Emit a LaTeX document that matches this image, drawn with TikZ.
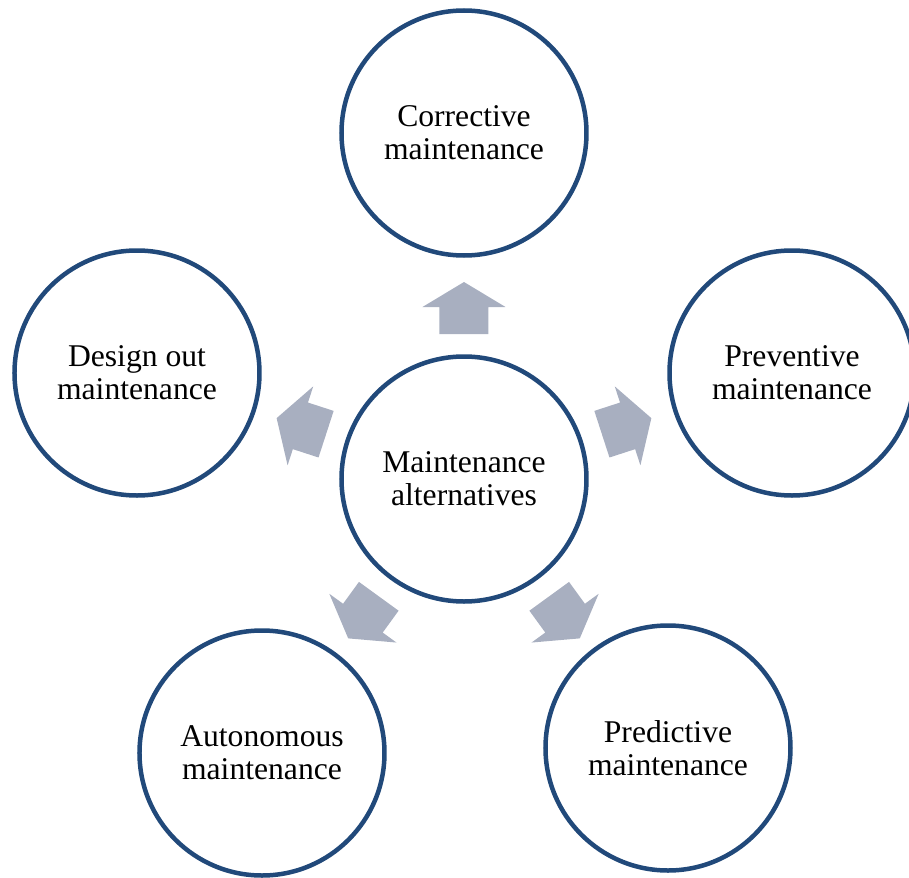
\documentclass[tikz,border=0pt]{standalone}
\usepackage{fontspec}
\setmainfont{Liberation Serif}
\usepackage{tikz}

\definecolor{ringblue}{HTML}{21497A}
\definecolor{arrowgrey}{HTML}{A8AFC0}

\begin{document}
\begin{tikzpicture}
                \tikzset{vertex/.style = {shape=circle,draw=ringblue,line width=0.09cm,minimum size=4.9cm,inner sep=0pt,align=center,font=\fontsize{18}{18.7}\selectfont}}
                \tikzset{blockarrow/.style = {fill=arrowgrey,draw=none}}
                \useasboundingbox (-9.28,-7.96) rectangle (8.9,9.58);
                % vertices
                \node[vertex] (alt) at (0,0) {Maintenance\\alternatives};
                \node[vertex] (corr) at (0,6.92) {Corrective\\maintenance};
                \node[vertex] (prev) at (6.56,2.12) {Preventive\\maintenance};
                \node[vertex] (design) at (-6.54,2.12) {Design out\\maintenance};
                \node[vertex] (auto) at (-4.04,-5.48) {Autonomous\\maintenance};
                \node[vertex] (pred) at (4.08,-5.38) {Predictive\\maintenance};
                %arrows
                \fill[blockarrow, rotate=90] (2.9,-0.49) -- (3.44,-0.49) -- (3.44,-0.83) -- (3.94,0) -- (3.44,0.83) -- (3.44,0.49) -- (2.9,0.49) -- cycle;
                \fill[blockarrow, rotate=18] (2.9,-0.49) -- (3.44,-0.49) -- (3.44,-0.83) -- (3.94,0) -- (3.44,0.83) -- (3.44,0.49) -- (2.9,0.49) -- cycle;
                \fill[blockarrow, rotate=162] (2.9,-0.49) -- (3.44,-0.49) -- (3.44,-0.83) -- (3.94,0) -- (3.44,0.83) -- (3.44,0.49) -- (2.9,0.49) -- cycle;
                \fill[blockarrow, rotate=234] (2.9,-0.49) -- (3.44,-0.49) -- (3.44,-0.83) -- (3.94,0) -- (3.44,0.83) -- (3.44,0.49) -- (2.9,0.49) -- cycle;
                \fill[blockarrow, rotate=306] (2.9,-0.49) -- (3.44,-0.49) -- (3.44,-0.83) -- (3.94,0) -- (3.44,0.83) -- (3.44,0.49) -- (2.9,0.49) -- cycle;
            \end{tikzpicture}
\end{document}
